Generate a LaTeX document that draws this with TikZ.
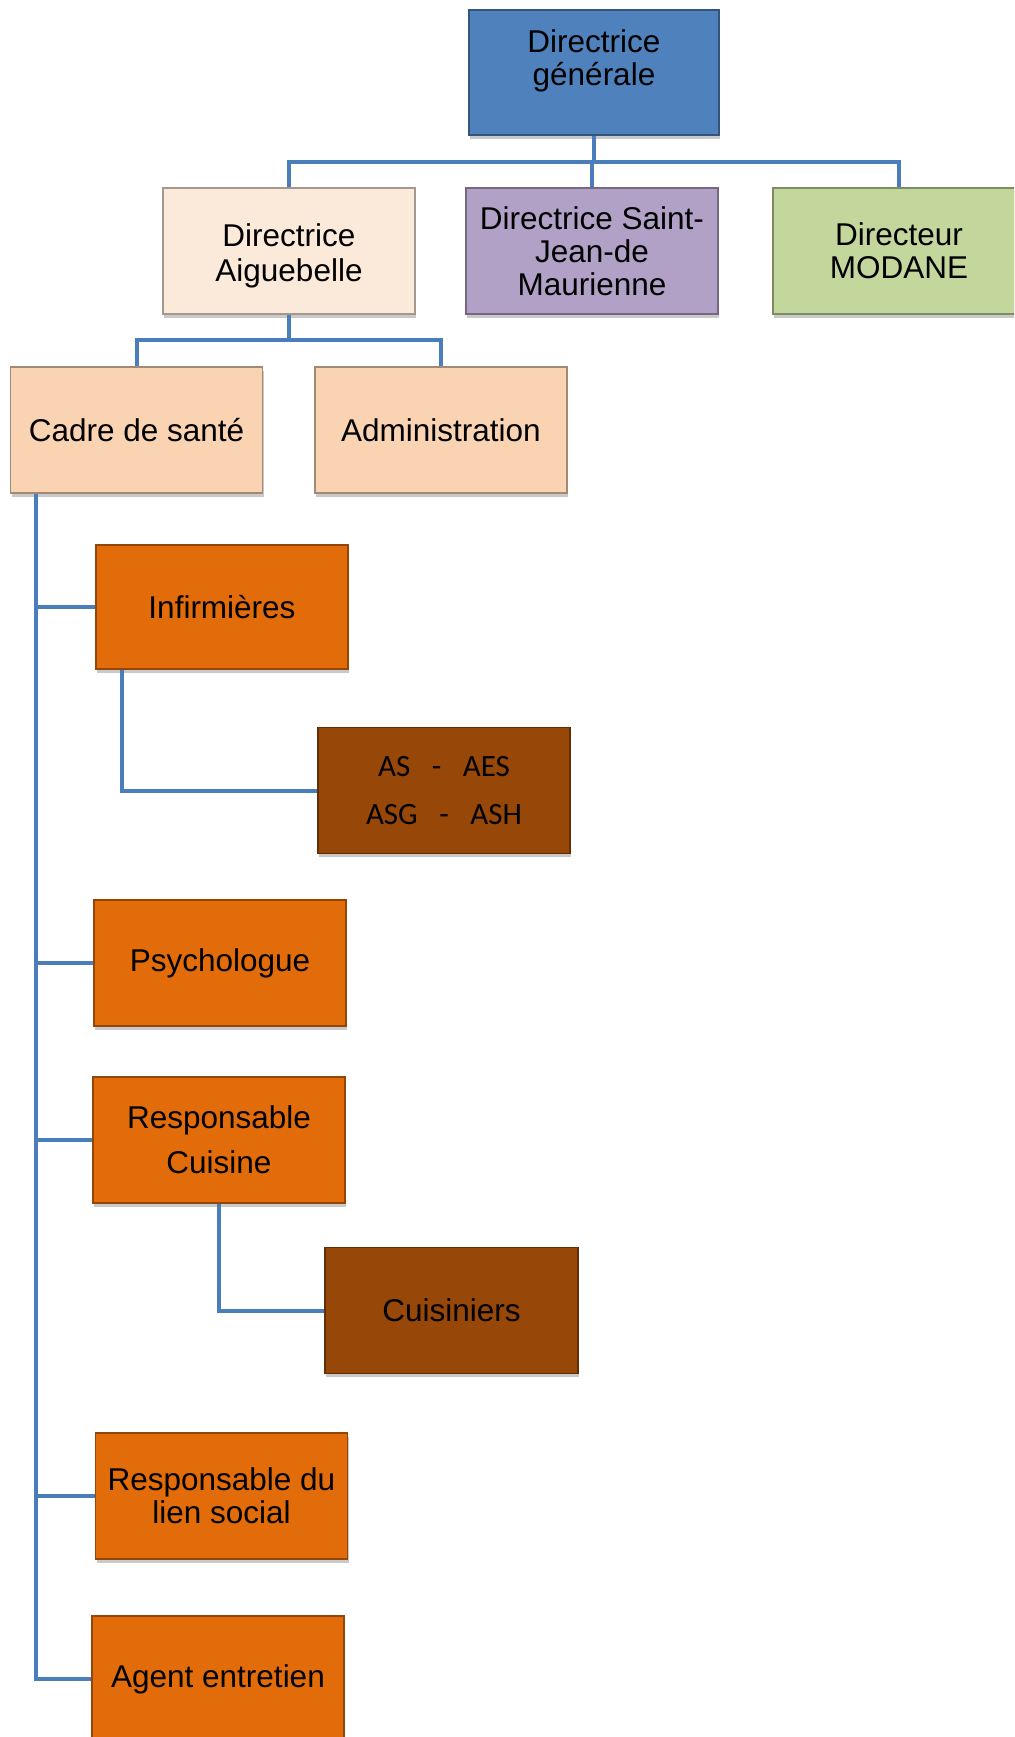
\documentclass[tikz,border=0pt]{standalone}
\usepackage{fontspec}
\setmainfont{Liberation Sans}
\newfontfamily\calib{Carlito}
\usetikzlibrary{shadows}
\definecolor{conn}{HTML}{4A7EBB}
\definecolor{cdg}{HTML}{4F81BD}
\definecolor{cai}{HTML}{FBE9DA}
\definecolor{csj}{HTML}{B2A1C7}
\definecolor{cmo}{HTML}{C3D69B}
\definecolor{cpe}{HTML}{FAD3B2}
\definecolor{cor}{HTML}{E36C0A}
\definecolor{cbr}{HTML}{974707}
\tikzset{
  orgbox/.style={draw=#1!65!black, fill=#1, line width=0.6pt, minimum width=126pt, minimum height=63pt,
    inner sep=0pt, align=center, font=\fontsize{15.75pt}{16.5pt}\selectfont,
    drop shadow={shadow xshift=0.6pt, shadow yshift=-1.8pt, opacity=0.3, fill=black!70}},
  connline/.style={draw=conn, line width=2pt},
  txt/.style={align=center, font=\fontsize{15.75pt}{16.5pt}\selectfont, inner sep=0pt}
}
\begin{document}
\begin{tikzpicture}[x=0.5pt, y=-0.5pt]
\useasboundingbox (0,0) rectangle (1014,1737);
\clip (0,0) rectangle (1014,1737);
% top level
\node[orgbox=cdg, minimum width=125pt, minimum height=62.5pt,
      label={[txt, yshift=6pt]center:Directrice\\générale}] (dg) at (594,72.5) {};
% second level
\node[orgbox=cai, label={[txt, font=\fontsize{15.75pt}{17.5pt}\selectfont, yshift=-2.5pt]center:Directrice\\Aiguebelle}] (ai) at (289,251) {};
\node[orgbox=csj] (sj) at (592,251) {Directrice Saint-\\Jean-de\\Maurienne};
\node[orgbox=cmo] (mo) at (899,251) {Directeur\\MODANE};
% third level
\node[orgbox=cpe] (ca) at (136.5,430) {Cadre de santé};
\node[orgbox=cpe] (ad) at (441,430) {Administration};
% staff
\node[orgbox=cor, minimum height=62pt] (inf) at (222,607) {Infirmières};
\node[orgbox=cbr, font=\calib\fontsize{15.5pt}{24pt}\selectfont] (as) at (444,790.5)
   {AS\hspace{10.8pt}-\hspace{10.8pt}AES\\ASG\hspace{10.8pt}-\hspace{10.8pt}ASH};
\node[orgbox=cor] (ps) at (220,963) {Psychologue};
\node[orgbox=cor, font=\fontsize{15.75pt}{22.5pt}\selectfont] (rc) at (219,1140) {Responsable\\Cuisine};
\node[orgbox=cbr, minimum width=126.5pt] (cu) at (451.5,1310.5) {Cuisiniers};
\node[orgbox=cor] (rl) at (221.5,1496) {Responsable du\\lien social};
\node[orgbox=cor] (ag) at (218,1679) {Agent entretien};
% bus coordinates
\coordinate (bus1) at (0,162);
\coordinate (bus2) at (0,340);
\coordinate (spine) at (36,0);
\coordinate (infx) at (122,0);
% connectors level 1
\draw[connline] (dg.south) -- (dg.south |- bus1);
\draw[connline] (ai.north) -- (ai.north |- bus1) -- (mo.north |- bus1) -- (mo.north);
\draw[connline] (sj.north) -- (sj.north |- bus1);
% connectors level 2
\draw[connline] (ai.south) -- (ai.south |- bus2);
\draw[connline] (ca.north) -- (ca.north |- bus2) -- (ad.north |- bus2) -- (ad.north);
% spine from Cadre de santé
\draw[connline] (spine |- ca.south) -- (spine |- ag.west) -- (ag.west);
\draw[connline] (spine |- inf.west) -- (inf.west);
\draw[connline] (spine |- ps.west) -- (ps.west);
\draw[connline] (spine |- rc.west) -- (rc.west);
\draw[connline] (spine |- rl.west) -- (rl.west);
% sub-branches
\draw[connline] (infx |- inf.south) -- (infx |- as.west) -- (as.west);
\draw[connline] (rc.south) -- (rc.south |- cu.west) -- (cu.west);
\end{tikzpicture}
\end{document}
